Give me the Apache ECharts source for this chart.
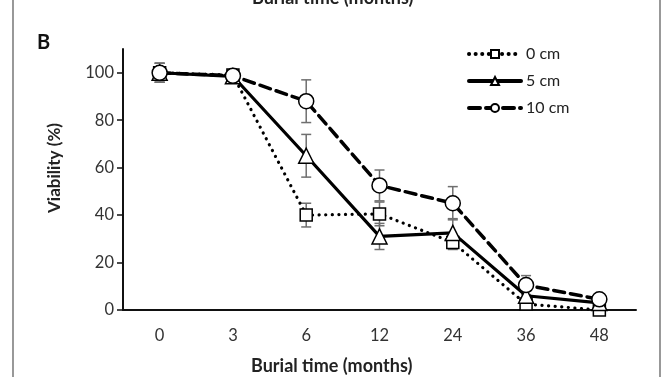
<!DOCTYPE html>
<html>
<head>
<meta charset="utf-8">
<script src="https://cdn.jsdelivr.net/npm/echarts@6/dist/echarts.min.js"></script>
<style>
  html, body { margin: 0; padding: 0; background: #fff; }
  #chart { width: 668px; height: 377px; }
</style>
</head>
<body>
<div id="chart"></div>
<script>
// burial time categories (months)
var months = ['0', '3', '6', '12', '24', '36', '48'];
var yTicks = [0, 20, 40, 60, 80, 100];

// mean viability (%)
var v0cm = [100, 99, 40, 40.5, 28.5, 2.5, 0];
var v5cm = [100, 98.5, 65, 31, 32.5, 6, 3];
var v10cm = [100, 98.7, 88, 52.5, 45, 10.5, 4.5];

// standard errors
var e0cm = [4, 2, 5, 5, 3, 1.5, 0.5];
var e5cm = [4, 2, 9, 5.5, 6, 2, 1];
var e10cm = [4, 1.5, 9, 6.5, 7, 4, 1];

function errData(vals, errs) {
    return vals.map(function (v, i) {
        return [i, v - errs[i], v + errs[i]];
    });
}

var chart = echarts.init(document.getElementById('chart'), null, { renderer: 'canvas' });

var font = 'Lato, "Open Sans", sans-serif';

function errSeries(name, vals, errs) {
    return {
        type: 'custom',
        name: name + ' err',
        z: 1,
        silent: true,
        data: errData(vals, errs),
        renderItem: function (params, api) {
            var x = api.value(0);
            var lo = api.coord([x, api.value(1)]);
            var hi = api.coord([x, api.value(2)]);
            var w = 5;
            var st = { stroke: '#6f6f6f', lineWidth: 1.5 };
            return {
                type: 'group',
                children: [
                    { type: 'line', shape: { x1: lo[0], y1: lo[1], x2: hi[0], y2: hi[1] }, style: st },
                    { type: 'line', shape: { x1: lo[0] - w, y1: lo[1], x2: lo[0] + w, y2: lo[1] }, style: st },
                    { type: 'line', shape: { x1: hi[0] - w, y1: hi[1], x2: hi[0] + w, y2: hi[1] }, style: st }
                ]
            };
        }
    };
}

function lineSeries(name, vals, symbol, size, lineType, width) {
    return {
        type: 'line',
        name: name,
        z: 3,
        data: vals,
        symbol: symbol,
        symbolSize: size,
        showAllSymbol: true,
        lineStyle: { color: '#000', width: width, type: lineType, cap: 'round' },
        itemStyle: { color: '#fff', borderColor: '#000', borderWidth: 1.5 },
        emphasis: { disabled: true }
    };
}

var option = {
    animation: false,
    backgroundColor: '#fff',
    grid: { left: 123, right: 32, top: 49, bottom: 67 },
    legend: {
        orient: 'vertical',
        left: 462,
        top: 41,
        itemWidth: 52,
        itemHeight: 10,
        itemGap: 11,
        lineStyle: { width: 4 },
        textStyle: { fontFamily: font, fontSize: 16, color: '#222' },
        data: ['0 cm', '5 cm', '10 cm']
    },
    xAxis: {
        type: 'category',
        data: months,
        boundaryGap: true,
        axisLine: { lineStyle: { color: '#111', width: 2 } },
        axisTick: { alignWithLabel: true, length: 6, lineStyle: { color: '#111', width: 1.5 } },
        axisLabel: { fontFamily: font, fontSize: 16.5, color: '#333', margin: 17 },
        splitLine: { show: false }
    },
    yAxis: {
        type: 'value',
        min: 0,
        max: 110,
        interval: 10,
        axisLine: { show: true, lineStyle: { color: '#111', width: 2 } },
        axisTick: { show: true, length: 6, customValues: yTicks, lineStyle: { color: '#111', width: 1.5 } },
        axisLabel: { fontFamily: font, fontSize: 16.5, color: '#333', margin: 9, customValues: yTicks },
        splitLine: { show: false }
    },
    graphic: [
        { type: 'rect', shape: { x: 13, y: -5, width: 647, height: 390 },
          style: { fill: null, stroke: '#555', lineWidth: 1.2 }, silent: true },
        { type: 'text', left: 252, top: -11,
          style: { text: 'Burial time (months)', fontFamily: font, fontWeight: 'bold', fontSize: 18, fill: '#222' } },
        { type: 'text', left: 37, top: 33,
          style: { text: 'B', fontFamily: font, fontWeight: 'bold', fontSize: 20, fill: '#111' } },
        { type: 'text', left: 251, top: 357,
          style: { text: 'Burial time (months)', fontFamily: font, fontWeight: 'bold', fontSize: 18, fill: '#222' } },
        { type: 'text', x: 55, y: 168, rotation: Math.PI / 2,
          style: { text: 'Viability (%)', fontFamily: font, fontWeight: 'bold', fontSize: 17, fill: '#222',
                   align: 'center', verticalAlign: 'middle', overflow: 'none' } }
    ],
    series: [
        errSeries('0 cm', v0cm, e0cm),
        errSeries('5 cm', v5cm, e5cm),
        errSeries('10 cm', v10cm, e10cm),
        lineSeries('0 cm', v0cm, 'rect', 12, [0.1, 6.5], 3.2),
        lineSeries('5 cm', v5cm, 'triangle', 15, 'solid', 3.2),
        lineSeries('10 cm', v10cm, 'circle', 15, [11, 6], 3.5)
    ]
};

chart.setOption(option);
</script>
</body>
</html>
